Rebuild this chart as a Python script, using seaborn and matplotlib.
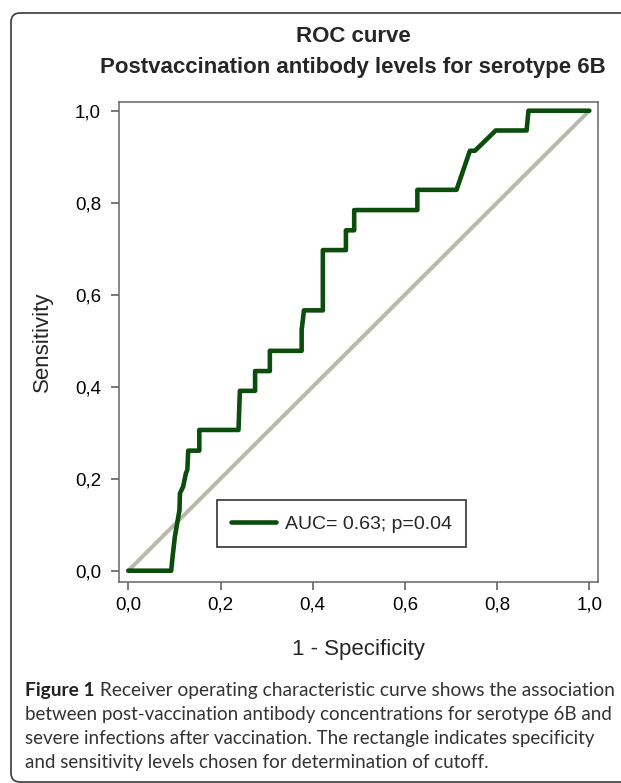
import matplotlib
matplotlib.use('Agg')
import matplotlib.pyplot as plt
import matplotlib.transforms as mtransforms
import seaborn as sns
import pandas as pd
from matplotlib.patches import FancyBboxPatch

# Данные ROC-кривой
fpr = [0.0, 0.093, 0.096, 0.101, 0.106, 0.111, 0.112, 0.119, 0.125, 0.128, 0.130,
       0.154, 0.154, 0.239, 0.242, 0.275, 0.275, 0.307, 0.307, 0.376, 0.376, 0.381,
       0.422, 0.422, 0.472, 0.472, 0.490, 0.490, 0.627, 0.627, 0.712, 0.741, 0.752,
       0.797, 0.864, 0.868, 1.0]
tpr = [0.0, 0.0, 0.030, 0.074, 0.103, 0.132, 0.168, 0.183, 0.212, 0.219, 0.261,
       0.261, 0.306, 0.306, 0.391, 0.391, 0.434, 0.434, 0.478, 0.478, 0.523, 0.566,
       0.566, 0.697, 0.697, 0.740, 0.740, 0.784, 0.784, 0.828, 0.828, 0.913, 0.913,
       0.957, 0.957, 1.0, 1.0]
diag_x = [0.0, 1.0]
diag_y = [0.0, 1.0]
ticks = [0.0, 0.2, 0.4, 0.6, 0.8, 1.0]
tick_labels = ['0,0', '0,2', '0,4', '0,6', '0,8', '1,0']
legend_label = 'AUC= 0.63; p=0.04'
caption_lines = ['between post-vaccination antibody concentrations for serotype 6B and',
                 'severe infections after vaccination. The rectangle indicates specificity',
                 'and sensitivity levels chosen for determination of cutoff.']

sns.set_style('ticks')
plt.rcParams['font.family'] = ['Liberation Sans', 'DejaVu Sans']

fig = plt.figure(figsize=(6.21, 7.83), dpi=100)
W, H = 621, 783

# рамка вокруг рисунка (в пикселях)
frame = FancyBboxPatch((11, 1), 700, 769,
                       boxstyle='round,pad=0,rounding_size=9',
                       transform=mtransforms.IdentityTransform(), fill=False,
                       edgecolor='#3a3a3a', linewidth=1.2)
fig.patches.append(frame)

ax = fig.add_axes([119 / W, 1 - 581.7 / H, (598.3 - 119) / W, (581.7 - 101.7) / H])

roc = pd.DataFrame({'fpr': fpr, 'tpr': tpr})
diag = pd.DataFrame({'x': diag_x, 'y': diag_y})

sns.lineplot(data=diag, x='x', y='y', ax=ax, color='#b9b9ae', linewidth=2.9,
             sort=False, estimator=None, solid_capstyle='round')
sns.lineplot(data=roc, x='fpr', y='tpr', ax=ax, color='#0b4d0b', linewidth=3.3,
             sort=False, estimator=None, label=legend_label)

ax.set_xlim(-0.0202, 1.0195)
ax.set_ylim(-0.0239, 1.0196)
ax.set_xticks(ticks)
ax.set_xticklabels(tick_labels)
ax.set_yticks(ticks)
ax.set_yticklabels(tick_labels)
ax.tick_params(axis='both', length=6, width=1.1, color='#555555',
               labelsize=13.5, labelcolor='black')
ax.tick_params(axis='x', pad=5)
ax.tick_params(axis='y', pad=7)
for sp in ax.spines.values():
    sp.set_color('#666666')
    sp.set_linewidth(1.1)

ax.set_xlabel('1 - Specificity', fontsize=16)
ax.set_ylabel('Sensitivity', fontsize=16)
ax.xaxis.set_label_coords(0.5, -0.12)
ax.yaxis.set_label_coords(-0.138, 0.5)

leg = ax.legend(loc='lower left', bbox_to_anchor=(0.204, 0.072), borderaxespad=0,
                fontsize=14, frameon=True, fancybox=False, handlelength=2.3,
                handletextpad=0.45, borderpad=0.75)
leg.get_frame().set_edgecolor('black')
leg.get_frame().set_linewidth(1.2)

fig.text(353 / W, 1 - 37 / H, 'ROC curve', ha='center', va='center',
         fontsize=16, fontweight='bold')
fig.text(353 / W, 1 - 68 / H, 'Postvaccination antibody levels for serotype 6B',
         ha='center', va='center', fontsize=16, fontweight='bold')

# подпись к рисунку
cap_font = ['Lato', 'DejaVu Sans']
cap_size = 13.5
t1 = fig.text(25 / W, 1 - 696 / H, 'Figure 1', fontsize=cap_size + 0.3, fontweight='bold',
              color='#222222', family=cap_font, va='baseline')
ax.annotate(' Receiver operating characteristic curve shows the association',
            xy=(1, 0), xycoords=t1, va='bottom', ha='left',
            fontsize=cap_size + 0.3, color='#333333', family=cap_font,
            annotation_clip=False)
for i, line in enumerate(caption_lines):
    fig.text(25 / W, 1 - (720 + 24 * i) / H, line, fontsize=cap_size,
             color='#333333', family=cap_font, va='baseline')

plt.savefig('out.png', dpi=100)
